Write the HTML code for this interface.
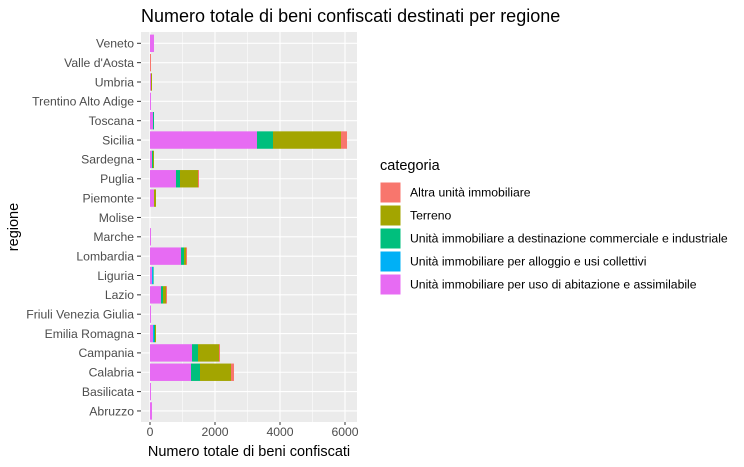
<!DOCTYPE html>
<html><head><meta charset="utf-8"><style>
body{margin:0;background:#fff}
svg{display:block;font-family:"Liberation Sans",sans-serif}
</style></head><body>
<svg id="s" width="744" height="467" viewBox="0 0 744 467" xmlns="http://www.w3.org/2000/svg">
<rect x="141" y="32" width="216" height="390" fill="#ebebeb"/>
<g id="grid"></g>
<g id="bars"></g>
<g id="ticks" stroke="#333" stroke-width="1"></g>
<g font-size="12.2" fill="#4d4d4d" text-anchor="end">
<text x="134" y="47.6">Veneto</text>
<text x="134" y="67">Valle d'Aosta</text>
<text x="134" y="86.3">Umbria</text>
<text x="134" y="105.7">Trentino Alto Adige</text>
<text x="134" y="125">Toscana</text>
<text x="134" y="144.4">Sicilia</text>
<text x="134" y="163.7">Sardegna</text>
<text x="134" y="183.1">Puglia</text>
<text x="134" y="202.4">Piemonte</text>
<text x="134" y="221.8">Molise</text>
<text x="134" y="241.1">Marche</text>
<text x="134" y="260.5">Lombardia</text>
<text x="134" y="279.8">Liguria</text>
<text x="134" y="299.2">Lazio</text>
<text x="134" y="318.5">Friuli Venezia Giulia</text>
<text x="134" y="337.9">Emilia Romagna</text>
<text x="134" y="357.2">Campania</text>
<text x="134" y="376.6">Calabria</text>
<text x="134" y="395.9">Basilicata</text>
<text x="134" y="415.3">Abruzzo</text>
</g>
<g font-size="12.2" fill="#4d4d4d" text-anchor="middle">
<text x="150" y="436">0</text>
<text x="215" y="436">2000</text>
<text x="280" y="436">4000</text>
<text x="345" y="436">6000</text>
</g>
<text x="249" y="456" font-size="14.5" text-anchor="middle" fill="#000">Numero totale di beni confiscati</text>
<text transform="translate(18,227) rotate(-90)" font-size="14.5" text-anchor="middle" fill="#000">regione</text>
<text x="141" y="22" font-size="18" fill="#000">Numero totale di beni confiscati destinati per regione</text>
<text x="380" y="170" font-size="14.5" fill="#000">categoria</text>
<g stroke="#fff" stroke-width="1">
<rect x="380" y="182" width="21" height="21" fill="#f8766d"/>
<rect x="380" y="205" width="21" height="21" fill="#a3a500"/>
<rect x="380" y="228" width="21" height="21" fill="#00bf7d"/>
<rect x="380" y="251" width="21" height="21" fill="#00b0f6"/>
<rect x="380" y="274" width="21" height="21" fill="#e76bf3"/>
</g>
<g font-size="12.2" fill="#000">
<text x="410" y="196.5">Altra unità immobiliare</text>
<text x="410" y="219.5">Terreno</text>
<text x="410" y="242.5">Unità immobiliare a destinazione commerciale e industriale</text>
<text x="410" y="265.5">Unità immobiliare per alloggio e usi collettivi</text>
<text x="410" y="288.5">Unità immobiliare per uso di abitazione e assimilabile</text>
</g>
</svg>
<script>
var ns="http://www.w3.org/2000/svg";
function el(p,t,a){var e=document.createElementNS(ns,t);for(var k in a)e.setAttribute(k,a[k]);p.appendChild(e);return e;}
var g=document.getElementById("grid"),b=document.getElementById("bars"),tk=document.getElementById("ticks");
[182.5,247.5,312.5].forEach(function(x){el(g,"line",{x1:x,x2:x,y1:32,y2:422,stroke:"#fff","stroke-width":0.55});});
[150,215,280,345].forEach(function(x){el(g,"line",{x1:x,x2:x,y1:32,y2:422,stroke:"#fff","stroke-width":1.1});el(tk,"line",{x1:x,x2:x,y1:422,y2:425});});
var P="#e76bf3",G="#00bf7d",O="#a3a500",R="#f8766d",B="#00b0f6";
var rows=[
[[150,154,P]],[[150,151,R]],[[150,151,P],[151,152,O]],[[150,151,P]],[[150,153,P],[153,154,G]],
[[150,257,P],[257,273,G],[273,341,O],[341,347,R]],
[[150,152,P],[152,153,G],[153,154,O]],
[[150,176,P],[176,180,G],[180,198,O],[198,199,R]],
[[150,154,P],[154,156,O]],[],[[150,151,P]],
[[150,181,P],[181,184,G],[184,186,O],[186,187,R]],
[[150,152,P],[152,153,B],[153,153.6,G]],
[[150,161,P],[161,163,G],[163,166,O],[166,167,R]],
[[150,151,P]],
[[150,153,P],[153,154,B],[154,155,G],[155,156,O]],
[[150,192,P],[192,198,G],[198,219,O],[219,220,R]],
[[150,191,P],[191,200,G],[200,231,O],[231,234,R]],
[[150,151,P]],[[150,152,P]]];
rows.forEach(function(r,i){var c=43.3+19.35*i;
el(g,"line",{x1:141,x2:357,y1:c,y2:c,stroke:"#fff","stroke-width":1.1});
el(tk,"line",{x1:137,x2:141,y1:c,y2:c});
r.forEach(function(s){el(b,"rect",{x:s[0],y:c-8.7,width:s[1]-s[0],height:17.4,fill:s[2]});});});
</script>
</body></html>
